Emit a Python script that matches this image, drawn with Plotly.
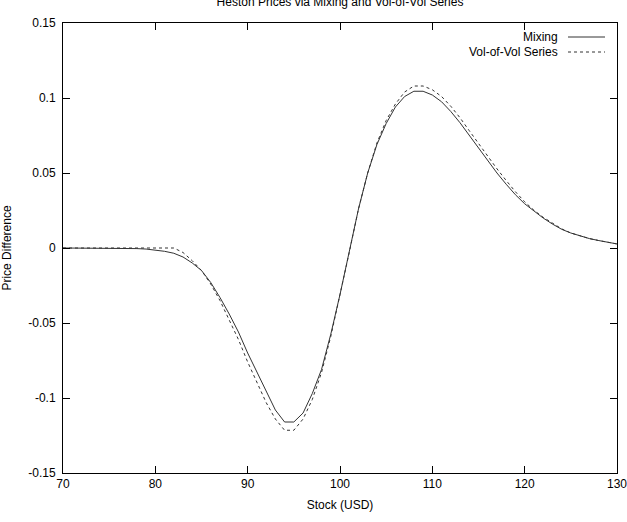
import plotly.graph_objects as go

stock = list(range(70, 131))

mixing = [
    0.0000, 0.0000, 0.0000, 0.0000, 0.0000, 0.0000, -0.0001, -0.0002, -0.0004, -0.0007,
    -0.0013, -0.0022, -0.0035, -0.0060, -0.0100, -0.0150, -0.0230, -0.0330, -0.0440, -0.0560,
    -0.0700, -0.0830, -0.0960, -0.1080, -0.1160, -0.1160, -0.1100, -0.0970, -0.0810, -0.0575,
    -0.0310, -0.0030, 0.0260, 0.0500, 0.0690, 0.0830, 0.0940, 0.1010, 0.1045, 0.1045,
    0.1020, 0.0975, 0.0910, 0.0835, 0.0750, 0.0665, 0.0580, 0.0500, 0.0425, 0.0355,
    0.0295, 0.0245, 0.0200, 0.0160, 0.0125, 0.0100, 0.0080, 0.0063, 0.0050, 0.0038,
    0.0027,
]

volvol = [
    0.0000, 0.0000, 0.0000, 0.0000, 0.0000, 0.0000, 0.0000, 0.0001, 0.0002, 0.0004,
    0.0005, 0.0005, 0.0000, -0.0030, -0.0085, -0.0150, -0.0240, -0.0350, -0.0480, -0.0610,
    -0.0760, -0.0900, -0.1030, -0.1140, -0.1215, -0.1215, -0.1140, -0.1010, -0.0830, -0.0590,
    -0.0320, -0.0030, 0.0260, 0.0500, 0.0700, 0.0850, 0.0960, 0.1040, 0.1080, 0.1080,
    0.1055, 0.1010, 0.0945, 0.0868, 0.0782, 0.0695, 0.0610, 0.0528, 0.0450, 0.0375,
    0.0308, 0.0252, 0.0205, 0.0164, 0.0128, 0.0100, 0.0080, 0.0063, 0.0050, 0.0038,
    0.0027,
]

x_ticks = [70, 80, 90, 100, 110, 120, 130]
x_tick_labels = ["70", "80", "90", "100", "110", "120", "130"]
y_ticks = [-0.15, -0.1, -0.05, 0, 0.05, 0.1, 0.15]
y_tick_labels = ["-0.15", "-0.1", "-0.05", "0", "0.05", "0.1", "0.15"]

series_names = ["Mixing", "Vol-of-Vol Series"]

FONT = "Liberation Sans, Arial, sans-serif"
LINE_COLOR = "#333333"

fig = go.Figure()
fig.add_trace(go.Scatter(x=stock, y=mixing, mode="lines", name=series_names[0],
                         line=dict(color=LINE_COLOR, width=1)))
fig.add_trace(go.Scatter(x=stock, y=volvol, mode="lines", name=series_names[1],
                         line=dict(color=LINE_COLOR, width=1, dash="3px,3px")))

axis_common = dict(showline=True, linecolor="#000000", linewidth=1, mirror="ticks",
                   ticks="inside", ticklen=7, tickcolor="#000000", tickwidth=1,
                   showgrid=False, zeroline=False, ticklabeloverflow="allow",
                   tickfont=dict(family=FONT, size=12, color="#000000"))

fig.update_xaxes(range=[70, 130], tickmode="array", tickvals=x_ticks, ticktext=x_tick_labels,
                 title=dict(text="Stock (USD)", font=dict(family=FONT, size=12, color="#000000"),
                            standoff=10),
                 **axis_common)
fig.update_yaxes(range=[-0.15, 0.15], tickmode="array", tickvals=y_ticks, ticktext=y_tick_labels,
                 title=dict(text="Price Difference", font=dict(family=FONT, size=12, color="#000000"),
                            standoff=14),
                 ticklabelstandoff=4,
                 **axis_common)

# gnuplot-style legend: right-aligned text with line sample to the right
def px_x(p):
    return (p - 63) / 554.0

def px_y(p):
    return (473 - p) / 450.0

legend_rows = [(series_names[0], 37, "solid"), (series_names[1], 52, "3px,3px")]
for name, ypix, dash in legend_rows:
    fig.add_annotation(x=px_x(560), y=px_y(ypix), xref="paper", yref="paper",
                       text=name, showarrow=False, xanchor="right", yanchor="middle",
                       font=dict(family=FONT, size=12, color="#000000"))
    fig.add_shape(type="line", xref="paper", yref="paper",
                  x0=px_x(568), x1=px_x(605), y0=px_y(ypix), y1=px_y(ypix),
                  line=dict(color=LINE_COLOR, width=1, dash=dash))

fig.update_layout(
    width=627, height=522,
    margin=dict(l=63, r=10, t=23, b=49, autoexpand=False),
    paper_bgcolor="#ffffff", plot_bgcolor="#ffffff",
    showlegend=False,
    title=dict(text="Heston Prices via Mixing and Vol-of-Vol Series",
               x=(340) / 627.0, xanchor="center", y=0.996, yref="container", yanchor="middle",
               font=dict(family=FONT, size=12, color="#000000")),
    font=dict(family=FONT, size=12, color="#000000"),
)

fig.write_html("out.html")
